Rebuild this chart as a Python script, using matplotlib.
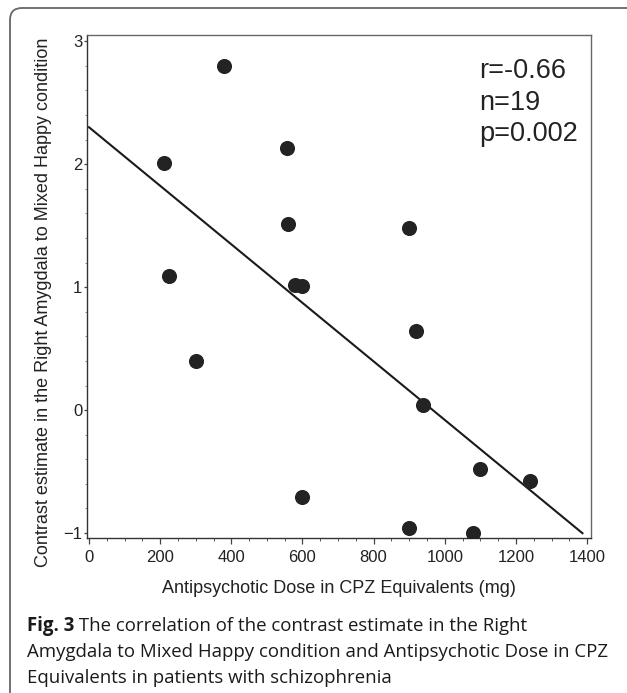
import numpy as np
import matplotlib
matplotlib.use("Agg")
import matplotlib.pyplot as plt
from matplotlib.patches import FancyBboxPatch
from matplotlib.transforms import IdentityTransform
from matplotlib.ticker import MultipleLocator

# data
dose_mg = [380, 210, 557, 560, 225, 580, 600, 900, 300, 600, 920, 938, 1100, 1240, 900, 1080]
contrast = [2.80, 2.01, 2.13, 1.51, 1.09, 1.016, 1.01, 1.477, 0.398, -0.705, 0.645, 0.038,
            -0.48, -0.575, -0.962, -0.997]

# fitted line as drawn (intercept, slope, x range)
fit_intercept = 2.30
fit_slope = -0.00238
fit_x = [0, 1387]

stats_lines = ["r=-0.66", "n=19", "p=0.002"]
xlabel = "Antipsychotic Dose in CPZ Equivalents (mg)"
ylabel = "Contrast estimate in the Right Amygdala to Mixed Happy condition"
caption_bold = "Fig. 3"
caption_lines = [
    " The correlation of the contrast estimate in the Right",
    "Amygdala to Mixed Happy condition and Antipsychotic Dose in CPZ",
    "Equivalents in patients with schizophrenia",
]

W, H = 627, 693
plt.rcParams['font.family'] = ['Liberation Sans', 'DejaVu Sans']
ink = '#222222'

fig = plt.figure(figsize=(W / 100, H / 100), dpi=100)
fig.patch.set_facecolor('white')

# rounded frame around the figure panel
frame = FancyBboxPatch((10, -40), 700, H - 8 + 40,
                       boxstyle="round,pad=0,rounding_size=12",
                       transform=IdentityTransform(), fill=False,
                       edgecolor='#666666', linewidth=1.3)
fig.patches.append(frame)

ax = fig.add_axes([87 / W, 1 - 538 / H, 504 / W, 503 / H])
ax.set_xlim(-5.6, 1411)
ax.set_ylim(-1.04, 3.05)

ax.scatter(dose_mg, contrast, s=118, color='#232323', linewidths=0, zorder=3)
fx = np.array(fit_x)
ax.plot(fx, fit_intercept + fit_slope * fx, color='#1a1a1a', linewidth=1.5, zorder=2)

for i, s in enumerate(stats_lines):
    ax.text(1096, 2.70 - i * 0.256, s, fontsize=19.5, color=ink, va='baseline', ha='left')

ax.xaxis.set_major_locator(MultipleLocator(200))
ax.xaxis.set_minor_locator(MultipleLocator(50))
ax.yaxis.set_major_locator(MultipleLocator(1))
ax.yaxis.set_minor_locator(MultipleLocator(0.2))
ax.tick_params(axis='x', which='major', direction='out', length=4, width=0.9, pad=5,
               labelsize=12, colors='#444444', labelcolor=ink)
ax.tick_params(axis='x', which='minor', direction='out', length=2.5, width=0.7, colors='#555555')
ax.tick_params(axis='y', which='major', direction='out', length=2.5, width=0.9, pad=1,
               labelsize=12, colors='#444444', labelcolor=ink)
ax.tick_params(axis='y', which='minor', direction='out', length=1.5, width=0.6, colors='#777777')
ax.set_yticks([-1, 0, 1, 2, 3])
ax.set_yticklabels(['\u22121', '0', '1', '2', '3'])

for side in ['left', 'bottom']:
    ax.spines[side].set_color('#333333')
    ax.spines[side].set_linewidth(1.0)
for side in ['top', 'right']:
    ax.spines[side].set_color('#666666')
    ax.spines[side].set_linewidth(1.0)

ax.set_xlabel(xlabel, fontsize=13, color=ink)
ax.xaxis.set_label_coords(0.5, -0.083)
ax.xaxis.label.set_va('top')
ax.set_ylabel(ylabel, fontsize=13, color=ink)
ax.yaxis.set_label_coords(-0.069, 0.469)

# caption below the chart
cap_font = ['Open Sans', 'DejaVu Sans']
cap_size = 13.4
x0 = 26.7 / W
t = fig.text(x0, 1 - 630.7 / H, caption_bold, fontsize=cap_size, fontweight='bold',
             family=cap_font, color='#1a1a1a', va='baseline')
fig.canvas.draw()
bb = t.get_window_extent(renderer=fig.canvas.get_renderer())
fig.text(bb.x1 / W, 1 - 630.7 / H, caption_lines[0], fontsize=cap_size, family=cap_font,
         color='#1a1a1a', va='baseline')
fig.text(x0, 1 - 657 / H, caption_lines[1], fontsize=cap_size, family=cap_font,
         color='#1a1a1a', va='baseline')
fig.text(x0, 1 - 683 / H, caption_lines[2], fontsize=cap_size, family=cap_font,
         color='#1a1a1a', va='baseline')

fig.savefig('out.png', dpi=100)
